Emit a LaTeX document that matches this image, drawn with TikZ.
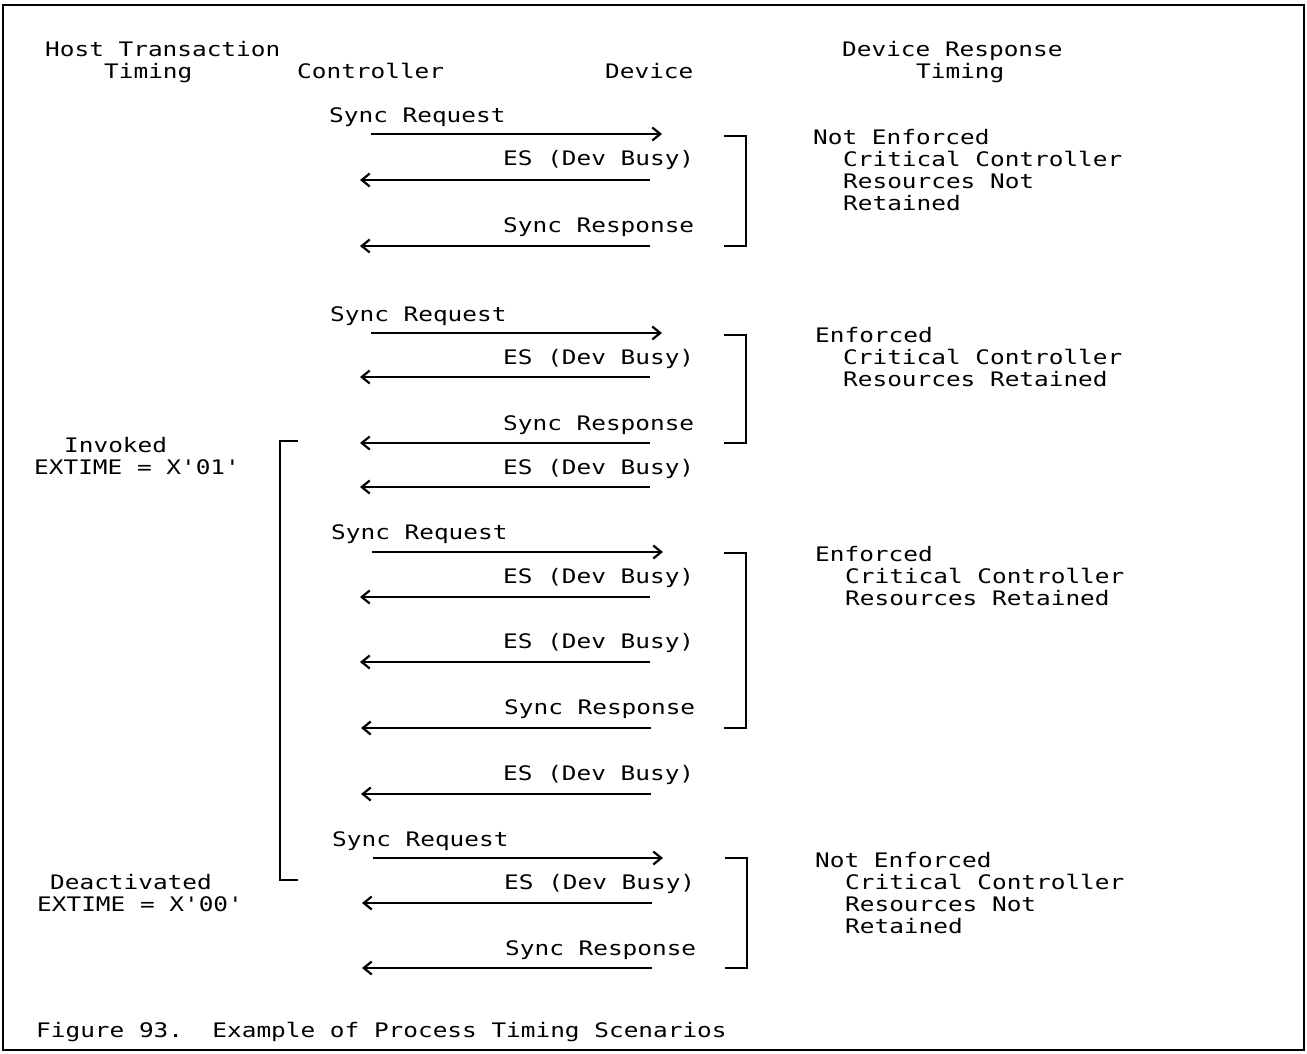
\documentclass[tikz,border=0pt]{standalone}
\usepackage{fontspec}
\setmonofont[FakeStretch=1.22]{DejaVu Sans Mono}
\usetikzlibrary{arrows.meta}
\begin{document}
\begin{tikzpicture}[x=1pt,y=-1pt,
  txt/.style={anchor=base west, inner sep=0pt, font=\ttfamily\fontsize{20}{24}\selectfont},
  msg/.style={line width=1.4pt, -{Straight Barb[length=8pt,width=13pt,line width=2.2pt]}},
  brk/.style={line width=2.2pt},
  frame/.style={line width=1.6pt}]
\useasboundingbox (0,0) rectangle (1307,1054);
\draw[frame] (3,5) rectangle (1304,1050);

% headers
\node[txt] (h1) at (45,57) {Host Transaction};
\node[txt] (h2) at (104,79) {Timing};
\node[txt] (h3) at (297,79) {Controller};
\node[txt] (h4) at (605,79) {Device};
\node[txt] (h5) at (842,57) {Device Response};
\node[txt] (h6) at (916,79) {Timing};

% ---------- block 1
\node[txt] (b1a) at (329,123) {Sync Request};
\coordinate (r1s) at (371,134); \coordinate (r1e) at (662,134);
\draw[msg] (r1s) -- (r1e);
\node[txt] (b1b) at (503,166) {ES (Dev Busy)};
\coordinate (l1s) at (650,180); \coordinate (l1e) at (360,180);
\draw[msg] (l1s) -- (l1e);
\node[txt] (b1c) at (503,233) {Sync Response};
\coordinate (l2s) at (650,246); \coordinate (l2e) at (360,246);
\draw[msg] (l2s) -- (l2e);
\coordinate (k1a) at (724,136); \coordinate (k1b) at (746,136);
\coordinate (k1c) at (746,246); \coordinate (k1d) at (724,246);
\draw[brk] (k1a) -- (k1b) -- (k1c) -- (k1d);
\node[txt] (t1a) at (813,145) {Not Enforced};
\node[txt] (t1b) at (843,167) {Critical Controller};
\node[txt] (t1c) at (843,189) {Resources Not};
\node[txt] (t1d) at (843,211) {Retained};

% ---------- block 2
\node[txt] (b2a) at (330,321) {Sync Request};
\coordinate (r2s) at (371,333); \coordinate (r2e) at (662,333);
\draw[msg] (r2s) -- (r2e);
\node[txt] (b2b) at (503,364) {ES (Dev Busy)};
\coordinate (l3s) at (650,377); \coordinate (l3e) at (360,377);
\draw[msg] (l3s) -- (l3e);
\node[txt] (b2c) at (503,430) {Sync Response};
\coordinate (l4s) at (650,443); \coordinate (l4e) at (360,443);
\draw[msg] (l4s) -- (l4e);
\coordinate (k2a) at (724,335); \coordinate (k2b) at (746,335);
\coordinate (k2c) at (746,443); \coordinate (k2d) at (724,443);
\draw[brk] (k2a) -- (k2b) -- (k2c) -- (k2d);
\node[txt] (t2a) at (815,342) {Enforced};
\node[txt] (t2b) at (843,364) {Critical Controller};
\node[txt] (t2c) at (843,386) {Resources Retained};
\node[txt] (b2d) at (503,474) {ES (Dev Busy)};
\coordinate (l5s) at (650,487); \coordinate (l5e) at (360,487);
\draw[msg] (l5s) -- (l5e);

% left: invoked
\node[txt] (inv1) at (64,452) {Invoked};
\node[txt] (inv2) at (34,474) {EXTIME = X'01'};
\coordinate (ka) at (298,441); \coordinate (kb) at (280,441);
\coordinate (kc) at (280,880); \coordinate (kd) at (298,880);
\draw[brk] (ka) -- (kb) -- (kc) -- (kd);

% ---------- block 3
\node[txt] (b3a) at (331,539) {Sync Request};
\coordinate (r3s) at (372,552); \coordinate (r3e) at (663,552);
\draw[msg] (r3s) -- (r3e);
\node[txt] (b3b) at (503,583) {ES (Dev Busy)};
\coordinate (l6s) at (650,597); \coordinate (l6e) at (360,597);
\draw[msg] (l6s) -- (l6e);
\node[txt] (b3c) at (503,648) {ES (Dev Busy)};
\coordinate (l7s) at (650,662); \coordinate (l7e) at (360,662);
\draw[msg] (l7s) -- (l7e);
\node[txt] (b3d) at (504,714) {Sync Response};
\coordinate (l8s) at (651,728); \coordinate (l8e) at (361,728);
\draw[msg] (l8s) -- (l8e);
\coordinate (k3a) at (724,553); \coordinate (k3b) at (746,553);
\coordinate (k3c) at (746,728); \coordinate (k3d) at (724,728);
\draw[brk] (k3a) -- (k3b) -- (k3c) -- (k3d);
\node[txt] (t3a) at (815,561) {Enforced};
\node[txt] (t3b) at (845,583) {Critical Controller};
\node[txt] (t3c) at (845,605) {Resources Retained};
\node[txt] (b3e) at (503,780) {ES (Dev Busy)};
\coordinate (l9s) at (651,794); \coordinate (l9e) at (361,794);
\draw[msg] (l9s) -- (l9e);

% ---------- block 4
\node[txt] (b4a) at (332,846) {Sync Request};
\coordinate (r4s) at (373,858); \coordinate (r4e) at (663,858);
\draw[msg] (r4s) -- (r4e);
\node[txt] (b4b) at (504,889) {ES (Dev Busy)};
\coordinate (l10s) at (652,903); \coordinate (l10e) at (362,903);
\draw[msg] (l10s) -- (l10e);
\node[txt] (b4c) at (505,955) {Sync Response};
\coordinate (l11s) at (652,968); \coordinate (l11e) at (362,968);
\draw[msg] (l11s) -- (l11e);
\coordinate (k4a) at (725,858); \coordinate (k4b) at (747,858);
\coordinate (k4c) at (747,968); \coordinate (k4d) at (725,968);
\draw[brk] (k4a) -- (k4b) -- (k4c) -- (k4d);
\node[txt] (t4a) at (815,867) {Not Enforced};
\node[txt] (t4b) at (845,889) {Critical Controller};
\node[txt] (t4c) at (845,911) {Resources Not};
\node[txt] (t4d) at (845,933) {Retained};

% left: deactivated
\node[txt] (dea1) at (50,889) {Deactivated};
\node[txt] (dea2) at (37,911) {EXTIME = X'00'};

% caption
\node[txt] (cap) at (36,1037) {Figure 93.\ \ Example of Process Timing Scenarios};
\end{tikzpicture}
\end{document}
